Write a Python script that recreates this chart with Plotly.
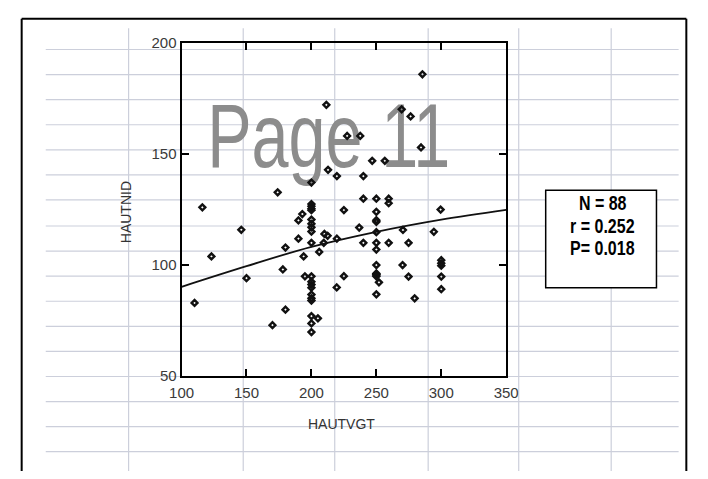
import plotly.graph_objects as go

W, H = 708, 479

# ---- data ----
haut_vgt = [110, 116, 123, 146, 150, 170, 174, 178, 180, 180, 190, 190, 193, 194, 195,
            200, 200, 200, 200, 200, 200, 200, 200, 200, 200,
            200, 200, 200, 200, 200, 200, 200, 200, 200, 200,
            205, 206, 210, 212.5, 209.5, 211.5, 212.8, 219.6, 219.6, 219.5,
            225, 225, 227.5, 237.6, 236.8, 240, 240, 240,
            250, 250, 250, 250, 250, 250, 250, 250, 250, 250, 250, 250, 250,
            252, 246.8, 256.5, 259.5, 259.5, 259.5,
            269.5, 276.4, 285.5, 284.4, 270.5, 274.8, 270.2, 274.8, 279.5, 294.3, 299.5,
            300, 300, 300, 300, 300]
haut_nid = [82.7, 125.8, 103.7, 115.7, 93.9, 72.7, 132.6, 97.8, 107.7, 79.7, 111.7, 119.9, 122.8, 103.7, 94.7,
            137, 127.3, 126.3, 125.2, 124.5, 120.3, 118.4, 116.8, 114.9, 109.8,
            94.7, 92.3, 91, 89.6, 86.5, 84.8, 83.8, 76.8, 73.5, 69.6,
            75.8, 105.7, 113.8, 113, 109.8, 172, 142.7, 139.9, 111.7, 89.7,
            124.6, 94.8, 158, 158, 116.7, 129.7, 139.9, 109.8,
            129.7, 123.8, 120, 119.3, 114.6, 109.8, 106.8, 99.8, 96, 95.6, 95.3, 94.7, 86.6,
            92, 146.8, 146.8, 129.7, 127.7, 109.8,
            170, 166.8, 185.8, 152.8, 115.6, 109.8, 99.8, 94.6, 84.8, 114.8, 124.8,
            102, 100.6, 99.5, 94.6, 88.9]

fit_x = [100, 150, 200, 250, 300, 350]
fit_y = [90.0, 99.3, 108.0, 114.8, 120.3, 124.7]

x_ticks = [100, 150, 200, 250, 300, 350]
y_ticks = [50, 100, 150, 200]
x_title = "HAUTVGT"
y_title = "HAUTNID"
stats_lines = ["N = 88", "r = 0.252", "P= 0.018"]
watermark = "Page 11"

# ---- layout geometry (pixels in the 708x479 picture) ----
PLOT_L, PLOT_R, PLOT_T, PLOT_B = 175, 512, 35, 380
SHEET_COLS = [120, 239, 334, 431, 525, 621]
SHEET_ROWS = [42, 68, 94, 120, 146, 172, 198, 225, 251, 277, 303, 329, 355, 381, 407, 433, 459]
BOX = (553, 188, 668, 289)
WM_POS = (213.3, 154.3)


def px(x):
    return x / W


def py(y):
    return 1 - y / H


grid_col = "rgb(204,207,219)"
shapes = []
for r in SHEET_ROWS:
    shapes.append(dict(type="line", xref="paper", yref="paper", x0=px(34), x1=px(691),
                       y0=py(r), y1=py(r), line=dict(color=grid_col, width=1.2), layer="below"))
for c in SHEET_COLS:
    shapes.append(dict(type="line", xref="paper", yref="paper", x0=px(c), x1=px(c),
                       y0=py(20), y1=py(479), line=dict(color=grid_col, width=1.2), layer="below"))
# outer sheet border
for (a, b, c, d) in [(9, 10, 699, 10), (9, 10, 9, 479), (699, 10, 699, 479)]:
    shapes.append(dict(type="line", xref="paper", yref="paper", x0=px(a), y0=py(b), x1=px(c), y1=py(d),
                       line=dict(color="black", width=2), layer="above"))
# stats box
shapes.append(dict(type="rect", xref="paper", yref="paper", x0=px(BOX[0]), y0=py(BOX[1]),
                   x1=px(BOX[2]), y1=py(BOX[3]), line=dict(color="black", width=1.5),
                   fillcolor="white", layer="above"))

SANS = "Liberation Sans, Arial, sans-serif"
tick_font = dict(family=SANS, size=15, color="#3a3a3a")

annotations = [
    dict(text=y_title, xref="paper", yref="paper", x=px(117), y=py(211), showarrow=False,
         textangle=-90, font=dict(family=SANS, size=14, color="#333"),
         xanchor="center", yanchor="middle"),
    dict(text=x_title, xref="paper", yref="paper", x=px(341), y=py(430), showarrow=False,
         font=dict(family=SANS, size=14, color="#333"),
         xanchor="center", yanchor="middle"),
]
for i, line in enumerate(stats_lines):
    annotations.append(dict(text="<b>%s</b>" % line, xref="paper", yref="paper",
                            x=px(612), y=py(201 + 23.5 * i), showarrow=False,
                            font=dict(family=SANS, size=20, color="black"),
                            xanchor="center", yanchor="middle"))

fig = go.Figure()
fig.add_trace(go.Scatter(x=[WM_POS[0]], y=[WM_POS[1]], mode="text", text=[watermark],
                         textposition="middle center",
                         textfont=dict(family=SANS, size=90, color="#8c8c8c"),
                         hoverinfo="skip", showlegend=False))
fig.add_trace(go.Scatter(x=fit_x, y=fit_y, mode="lines", line=dict(color="#111", width=1.8, shape="spline"),
                         showlegend=False))
fig.add_trace(go.Scatter(x=haut_vgt, y=haut_nid, mode="markers",
                         marker=dict(symbol="diamond-open", size=4.5, color="#111", line=dict(width=2.4)),
                         showlegend=False))

axis_common = dict(showgrid=False, zeroline=False, showline=True, linecolor="black", linewidth=2,
                   mirror="ticks", ticks="inside", ticklen=7, tickwidth=1.5, tickcolor="black",
                   tickfont=tick_font)
fig.update_layout(
    width=W, height=H, autosize=False,
    margin=dict(l=0, r=0, t=0, b=0, pad=0),
    paper_bgcolor="white", plot_bgcolor="rgba(0,0,0,0)",
    xaxis=dict(range=[100, 350], tickvals=x_ticks, domain=[px(PLOT_L), px(PLOT_R)],
               ticklabelstandoff=2, **axis_common),
    yaxis=dict(range=[50, 200], tickvals=y_ticks, domain=[py(PLOT_B), py(PLOT_T)], **axis_common),
    shapes=shapes, annotations=annotations, showlegend=False,
)

# narrow (condensed) look of the original lettering: squeeze text horizontally around its centre
post = """
document.body.style.margin = '0';
document.body.style.padding = '0';
var gd = document.getElementById('{plot_id}');
function squeeze(el, s) {
  var b = el.getBBox(); var cx = b.x + b.width / 2;
  el.setAttribute('transform', 'translate(' + cx + ',0) scale(' + s + ',1) translate(' + (-cx) + ',0)');
}
gd.querySelectorAll('.textpoint text').forEach(function (t) { squeeze(t, 0.74); });
gd.querySelectorAll('.annotation-text').forEach(function (t) {
  if (t.textContent.indexOf('=') >= 0) { squeeze(t, 0.8); }
});
"""

fig.write_html("out.html", config={"displayModeBar": False}, post_script=post)
